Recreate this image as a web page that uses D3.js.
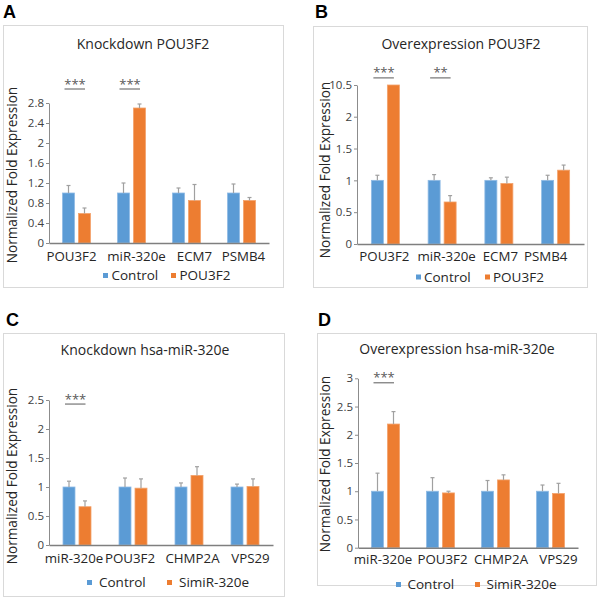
<!DOCTYPE html>
<html>
<head>
<meta charset="utf-8">
<script src="https://cdn.jsdelivr.net/npm/d3@7"></script>
<style>
  html,body{margin:0;padding:0;background:#fff;}
  svg{display:block;}
  text{font-family:"Open Sans","Noto Sans",sans-serif;fill:#262626;}
</style>
</head>
<body>
<svg id="chart" width="600" height="598"></svg>
<script>
// ---------------- DATA ----------------
const seriesAB = ["Control", "POU3F2"];
const seriesCD = ["Control", "SimiR-320e"];

const catsA = ["POU3F2", "miR-320e", "ECM7", "PSMB4"];
const ctrlA = [1, 1, 1, 1];
const ctrlErrA = [0.15, 0.2, 0.1, 0.18];
const treatA = [0.59, 2.7, 0.85, 0.85];
const treatErrA = [0.11, 0.08, 0.32, 0.06];
const ticksA = [0, 0.4, 0.8, 1.2, 1.6, 2, 2.4, 2.8];
const sigA = [{cat: "POU3F2", label: "***", level: 3.08}, {cat: "miR-320e", label: "***", level: 3.08}];

const catsB = ["POU3F2", "miR-320e", "ECM7", "PSMB4"];
const ctrlB = [1, 1, 1, 1];
const ctrlErrB = [0.08, 0.09, 0.04, 0.08];
const treatB = [10.5, 0.66, 0.95, 1.16];
const treatErrB = [0, 0.1, 0.1, 0.08];
const ticksB = [0, 0.5, 1, 1.5, 2, 10.5];
const sigB = [{cat: "POU3F2", label: "***", level: 12.4}, {cat: "miR-320e", label: "**", level: 12.4}];

const catsC = ["miR-320e", "POU3F2", "CHMP2A", "VPS29"];
const ctrlC = [1, 1, 1, 1];
const ctrlErrC = [0.1, 0.155, 0.07, 0.05];
const treatC = [0.66, 0.98, 1.2, 1.01];
const treatErrC = [0.1, 0.16, 0.15, 0.13];
const ticksC = [0, 0.5, 1, 1.5, 2, 2.5];
const sigC = [{cat: "miR-320e", label: "***", level: 2.43}];

const catsD = ["miR-320e", "POU3F2", "CHMP2A", "VPS29"];
const ctrlD = [1, 1, 1, 1];
const ctrlErrD = [0.32, 0.24, 0.19, 0.11];
const treatD = [2.19, 0.97, 1.2, 0.96];
const treatErrD = [0.22, 0.03, 0.09, 0.18];
const ticksD = [0, 0.5, 1, 1.5, 2, 2.5, 3];
const sigD = [{cat: "miR-320e", label: "***", level: 2.92}];

const titles = ["Knockdown POU3F2", "Overexpression POU3F2", "Knockdown hsa-miR-320e", "Overexpression hsa-miR-320e"];
const letters = ["A", "B", "C", "D"];
const yLabel = "Normalized Fold Expression";

// ---------------- LAYOUT ----------------
const colors = ["#5b9bd5", "#ed7d31"];
const strokes = ["#8fbbe5", "#f3a26b"];

const panels = [
  {letter: letters[0], title: titles[0], cats: catsA, ctrl: ctrlA, ctrlErr: ctrlErrA, treat: treatA, treatErr: treatErrA,
   ticks: ticksA, sig: sigA, series: seriesAB,
   frame: [3, 25, 283, 287], letterPos: [3, 18], titlePos: [143, 49],
   xRange: [49, 269], yDomain: [0, 2.8], yRange: [243, 103], labelDx: [-5, 5, 8, 2],
   yLabelPos: [16.5, 175], xLabelDy: 18, legendY: 275.5, legendX: [103, 171], legendGap: 8.5},
  {letter: letters[1], title: titles[1], cats: catsB, ctrl: ctrlB, ctrlErr: ctrlErrB, treat: treatB, treatErr: treatErrB,
   ticks: ticksB, sig: sigB, series: seriesAB,
   frame: [313, 26, 587, 287], letterPos: [315, 18], titlePos: [461, 49],
   xRange: [357, 584], yDomain: [0, 2, 10.5], yRange: [244, 116.7, 85], labelDx: [-1, 4.5, 1.5, -10],
   yLabelPos: [329.5, 170], xLabelDy: 17, legendY: 277, legendX: [416, 485], legendGap: 8},
  {letter: letters[2], title: titles[2], cats: catsC, ctrl: ctrlC, ctrlErr: ctrlErrC, treat: treatC, treatErr: treatErrC,
   ticks: ticksC, sig: sigC, series: seriesCD,
   frame: [3, 333, 284, 596], letterPos: [6, 326], titlePos: [145, 355],
   xRange: [49, 273], yDomain: [0, 2.5], yRange: [545, 400], labelDx: [-3, -3, 3.5, 5.5],
   yLabelPos: [17, 476], xLabelDy: 18, legendY: 582.5, legendX: [87, 167], legendGap: 12},
  {letter: letters[3], title: titles[3], cats: catsD, ctrl: ctrlD, ctrlErr: ctrlErrD, treat: treatD, treatErr: treatErrD,
   ticks: ticksD, sig: sigD, series: seriesCD,
   frame: [317, 333, 596, 585], letterPos: [318, 326], titlePos: [457, 354],
   xRange: [358, 578], yDomain: [0, 3], yRange: [547.7, 378.3], labelDx: [-2.5, 2, 5.5, 8],
   yLabelPos: [330, 464], xLabelDy: 16, legendY: 584.5, legendX: [396, 475], legendGap: 11.5}
];

const svg = d3.select("#chart");

panels.forEach(p => {
  const g = svg.append("g");
  // frame
  g.append("rect")
    .attr("x", p.frame[0] + 0.5).attr("y", p.frame[1] + 0.5)
    .attr("width", p.frame[2] - p.frame[0]).attr("height", p.frame[3] - p.frame[1])
    .attr("fill", "#fff").attr("stroke", "#d9d9d9").attr("stroke-width", 1);

  // panel letter
  g.append("text").attr("x", p.letterPos[0]).attr("y", p.letterPos[1])
    .attr("font-size", 18).attr("font-weight", 700).style("fill", "#000")
    .style("font-family", "'Liberation Sans', Arial, sans-serif")
    .text(p.letter);

  // title
  g.append("text").attr("x", p.titlePos[0]).attr("y", p.titlePos[1])
    .attr("text-anchor", "middle").attr("font-size", 14).text(p.title);

  // scales
  const x0 = d3.scaleBand().domain(p.cats).range(p.xRange).paddingInner(0).paddingOuter(0);
  const x1 = d3.scaleBand().domain(p.series).range([-14, 14]).paddingInner(0.25);
  const y = d3.scaleLinear().domain(p.yDomain).range(p.yRange);

  // y axis
  const yAxis = d3.axisLeft(y).tickValues(p.ticks).tickSize(3).tickSizeOuter(0).tickPadding(2)
    .tickFormat(d => String(d));
  const ya = g.append("g").attr("transform", `translate(${p.xRange[0]},0)`).call(yAxis);
  ya.select(".domain").attr("stroke", "#8c8c8c");
  ya.selectAll(".tick line").attr("stroke", "#8c8c8c");
  ya.selectAll(".tick text").attr("font-size", 11.5).style("fill", "#404040")
    .style("font-family", "'Open Sans', sans-serif");

  // bars
  const rows = p.cats.map((c, i) => ({cat: c, vals: [
    {s: p.series[0], v: p.ctrl[i], e: p.ctrlErr[i], k: 0},
    {s: p.series[1], v: p.treat[i], e: p.treatErr[i], k: 1}
  ]}));
  const grp = g.selectAll(".grp").data(rows).join("g")
    .attr("transform", d => `translate(${x0(d.cat) + x0.bandwidth() / 2},0)`);

  grp.selectAll("rect").data(d => d.vals).join("rect")
    .attr("x", d => x1(d.s)).attr("width", x1.bandwidth())
    .attr("y", d => y(d.v)).attr("height", d => y(0) - y(d.v))
    .attr("fill", d => colors[d.k]).attr("stroke", d => strokes[d.k]).attr("stroke-width", 0.8);

  // error bars
  const eb = grp.selectAll(".err").data(d => d.vals.filter(v => v.e > 0)).join("g").attr("class", "err");
  eb.append("line")
    .attr("x1", d => x1(d.s) + x1.bandwidth() / 2).attr("x2", d => x1(d.s) + x1.bandwidth() / 2)
    .attr("y1", d => y(d.v)).attr("y2", d => y(d.v + d.e))
    .attr("stroke", "#a0a0a0").attr("stroke-width", 1.2);
  eb.append("line")
    .attr("x1", d => x1(d.s) + x1.bandwidth() / 2 - 2).attr("x2", d => x1(d.s) + x1.bandwidth() / 2 + 2)
    .attr("y1", d => y(d.v + d.e)).attr("y2", d => y(d.v + d.e))
    .attr("stroke", "#a0a0a0").attr("stroke-width", 1.2);

  // x axis
  const xAxis = d3.axisBottom(x0).tickSize(0).tickSizeOuter(0).tickPadding(p.xLabelDy - 9.5);
  const xa = g.append("g").attr("transform", `translate(0,${y(0)})`).call(xAxis);
  xa.select(".domain").attr("stroke", "#7f7f7f").attr("stroke-width", 1.6);
  xa.selectAll(".tick text").attr("font-size", 13.3).style("fill", "#262626")
    .style("font-family", "'Open Sans', sans-serif")
    .attr("dx", (d, i) => p.labelDx[i]);

  // y label
  g.append("text")
    .attr("transform", `translate(${p.yLabelPos[0]},${p.yLabelPos[1]}) rotate(-90)`)
    .attr("text-anchor", "middle").attr("font-size", 13.6).text(yLabel);

  // significance
  p.sig.forEach(s => {
    const cx = x0(s.cat) + x0.bandwidth() / 2;
    const ly = y(s.level);
    g.append("line").attr("x1", cx - 12).attr("x2", cx + 8.5).attr("y1", ly).attr("y2", ly)
      .attr("stroke", "#595959").attr("stroke-width", 1);
    g.append("text").attr("x", cx - 1.5).attr("y", ly - 0.5).attr("text-anchor", "middle")
      .attr("font-size", 13).style("fill", "#595959").text(s.label);
  });

  // legend
  p.series.forEach((s, k) => {
    g.append("rect").attr("x", p.legendX[k]).attr("y", p.legendY - 2.5).attr("width", 5).attr("height", 5)
      .attr("fill", colors[k]);
    g.append("text").attr("x", p.legendX[k] + p.legendGap).attr("y", p.legendY + 4.5)
      .attr("font-size", 13.5).text(s);
  });
});
</script>
</body>
</html>
